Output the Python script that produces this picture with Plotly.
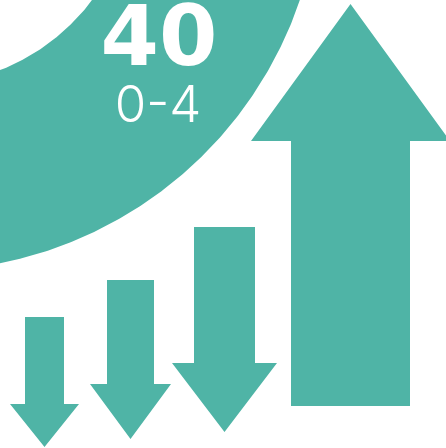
import numpy as np
import plotly.graph_objects as go

# ---- data ----
headline_value = ["40"]
headline_range = ["0-4"]
arrow_names = ["down 1", "down 2", "down 3", "up"]
arrow_direction = ["down", "down", "down", "up"]
arrow_length = [130, 159, 205, 402]  # tail-to-tip length of each arrow

TEAL = "#4fb4a6"
W, H = 446, 448

# ---- geometry spec (pixel layout) ----
arrow_center = [44.5, 130.5, 224.5, 350.5]
arrow_tail = [317, 280, 227, 406]
arrow_shaft_w = [39, 47, 61, 119]
arrow_head_w = [69, 81, 105, 199]
arrow_head_h = [43, 55, 69, 137]

fig = go.Figure()

# ring sector (annulus) in top-left
cx, cy = -78.0, -128.0
r_out, r_in = 399.0, 213.0
t = np.linspace(-0.2, np.pi / 2 + 0.2, 300)
xo = cx + r_out * np.cos(t)
yo = cy + r_out * np.sin(t)
xi = cx + r_in * np.cos(t[::-1])
yi = cy + r_in * np.sin(t[::-1])
fig.add_trace(go.Scatter(
    x=np.concatenate([xo, xi, xo[:1]]), y=np.concatenate([yo, yi, yo[:1]]),
    mode="lines", fill="toself", fillcolor=TEAL, line=dict(width=0, color=TEAL),
    hoverinfo="skip", showlegend=False))

for name, d, L, c, tail, sw, hw, hh in zip(arrow_names, arrow_direction, arrow_length,
                                          arrow_center, arrow_tail, arrow_shaft_w,
                                          arrow_head_w, arrow_head_h):
    s = 1 if d == "down" else -1
    tip = tail + s * L
    base = tip - s * hh
    xs = [c - sw / 2, c + sw / 2, c + sw / 2, c + hw / 2, c, c - hw / 2, c - sw / 2, c - sw / 2]
    ys = [tail, tail, base, base, tip, base, base, tail]
    fig.add_trace(go.Scatter(x=xs, y=ys, mode="lines", fill="toself", fillcolor=TEAL,
                             line=dict(width=0, color=TEAL), name=name,
                             hoverinfo="skip", showlegend=False))

fig.add_trace(go.Scatter(x=[159], y=[44], mode="text", text=headline_value, cliponaxis=False,
                         textfont=dict(family="DejaVu Sans", size=84, color="white", weight=700),
                         hoverinfo="skip", showlegend=False))
fig.add_trace(go.Scatter(x=[158], y=[109], mode="text", text=headline_range, cliponaxis=False,
                         textfont=dict(family="Inter", size=51, color="white", weight=300),
                         hoverinfo="skip", showlegend=False))

fig.update_xaxes(range=[0, W], visible=False, fixedrange=True)
fig.update_yaxes(range=[H, 0], visible=False, fixedrange=True)
fig.update_layout(width=W, height=H, margin=dict(l=0, r=0, t=0, b=0),
                  paper_bgcolor="white", plot_bgcolor="white")
fig.write_html("out.html", config={"displayModeBar": False},
               post_script="document.body.style.margin='0';document.body.style.overflow='hidden';")
